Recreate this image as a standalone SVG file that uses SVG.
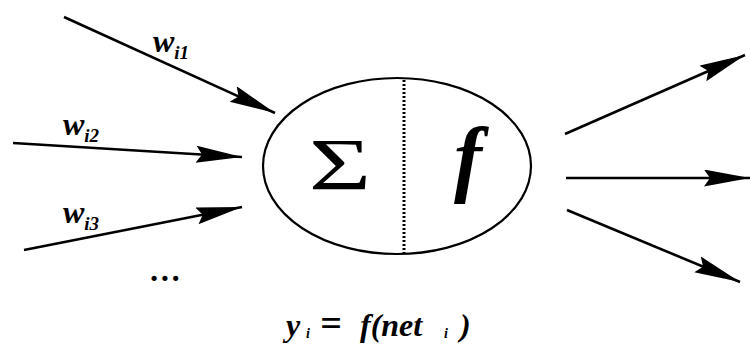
<svg xmlns="http://www.w3.org/2000/svg" width="750" height="347" viewBox="0 0 750 347">
<style>
.ln{stroke:#000;stroke-width:2.6;fill:none;marker-end:url(#ah)}
.w{font-family:'Liberation Serif',serif;font-style:italic;font-weight:bold;fill:#000}
</style>
<defs>
<marker id="ah" markerUnits="userSpaceOnUse" markerWidth="50" markerHeight="20" refX="46" refY="8.5" orient="auto">
<path d="M0,0 L46,8.5 L0,17 L6,8.5 z" fill="#000"/>
</marker>
</defs>
<rect width="750" height="347" fill="#fff"/>
<g id="neuron">
<ellipse cx="397" cy="166" rx="134" ry="88" fill="none" stroke="#000" stroke-width="2.2"/>
<line x1="404" y1="80" x2="404" y2="253" stroke="#000" stroke-width="3" stroke-dasharray="2,2"/>
<text font-family="'Liberation Serif',serif" transform="translate(340,190) scale(1.45,1)" x="0" y="0" font-size="74" text-anchor="middle">Σ</text>
<text class="w" x="468" y="186" font-size="84" text-anchor="middle">f</text>
</g>
<g id="connectors">
<line class="ln" x1="64" y1="17" x2="275" y2="113"/>
<line class="ln" x1="13" y1="143" x2="242" y2="157"/>
<line class="ln" x1="24" y1="250" x2="242" y2="207"/>
<line class="ln" x1="565" y1="134" x2="745" y2="55"/>
<line class="ln" x1="566" y1="178" x2="750" y2="178"/>
<line class="ln" x1="567" y1="210" x2="740" y2="282"/>
</g>
<g id="labels">
<text class="w" x="153" y="52" font-size="32">w<tspan font-size="19" dy="7">i1</tspan></text>
<text class="w" x="63" y="135" font-size="32">w<tspan font-size="19" dy="7">i2</tspan></text>
<text class="w" x="63" y="223" font-size="32">w<tspan font-size="19" dy="7">i3</tspan></text>
<text class="w" x="150" y="281" font-size="32" font-style="normal">…</text>
<text class="w" x="286" y="336" font-size="32">y</text>
<text class="w" x="306" y="338" font-size="14">i</text>
<text class="w" x="320" y="336" font-size="38" font-style="normal">=</text>
<text class="w" x="360" y="336" font-size="32">f(net</text>
<text class="w" x="444" y="338" font-size="14">i</text>
<text class="w" x="460" y="336" font-size="32">)</text>
</g>
</svg>
